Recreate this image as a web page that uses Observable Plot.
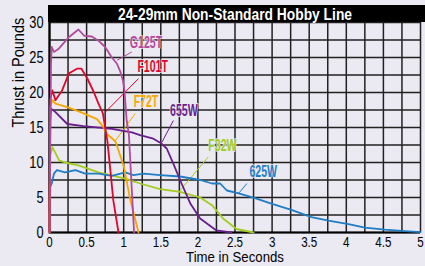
<!DOCTYPE html>
<html>
<head>
<meta charset="utf-8">
<script src="https://cdn.jsdelivr.net/npm/d3@7"></script>
<script src="https://cdn.jsdelivr.net/npm/@observablehq/plot@0.6"></script>
<style>
  html, body { margin: 0; padding: 0; background: #EBE9F1; }
  #chart { width: 425px; height: 266px; }
</style>
</head>
<body>
<div id="chart"></div>
<script>
const titleText = "24-29mm Non-Standard Hobby Line";
const xLabel = "Time in Seconds";
const yLabel = "Thrust in Pounds";
const xTicks = [0, 0.5, 1, 1.5, 2, 2.5, 3, 3.5, 4, 4.5, 5];
const yTicks = [0, 5, 10, 15, 20, 25, 30];
const xGrid = d3.range(0, 5.001, 0.25);
const yGrid = d3.range(0, 30.001, 2.5);

const seriesNames = ["F32W", "625W", "655W", "F72T", "F101T", "G125T"];
const seriesColors = ["#A2CD1E", "#1F7DC6", "#6A1E8E", "#F6A800", "#E1062C", "#B34A9E"];

const tF32W = [0, 0.01, 0.04, 0.13, 0.21, 0.39, 0.66, 1.02, 1.22, 1.49, 1.76, 2.03, 2.19, 2.34, 2.52, 2.75];
const vF32W = [0, 11, 12.2, 10.3, 10.0, 9.6, 8.6, 7.7, 7.0, 6.2, 5.8, 5.0, 3.9, 2.0, 0.5, 0];

const t625W = [0, 0.01, 0.03, 0.06, 0.10, 0.21, 0.35, 0.48, 0.66, 0.84, 1.02, 1.13, 1.27, 1.49, 1.76, 2.03, 2.19, 2.30, 2.39, 2.55, 2.77, 3.0, 3.27, 3.53, 3.76, 4.03, 4.25, 4.52, 4.79, 5.0];
const v625W = [0, 6.5, 7.0, 8.4, 8.9, 8.6, 8.9, 8.4, 8.4, 8.1, 8.6, 8.2, 8.4, 8.2, 8.0, 7.5, 7.0, 7.0, 6.0, 5.6, 4.9, 4.1, 3.2, 2.2, 1.7, 1.2, 0.7, 0.4, 0.2, 0.05];

const t655W = [0, 0.01, 0.02, 0.08, 0.24, 0.46, 0.84, 1.11, 1.22, 1.40, 1.51, 1.58, 1.67, 1.78, 1.90, 2.03, 2.25, 2.45];
const v655W = [0, 16, 17.7, 17.2, 15.5, 15.2, 14.8, 14.3, 13.9, 13.4, 12.7, 12.0, 9.8, 7.0, 4.1, 2.0, 0.3, 0];

const tF72T = [0, 0.01, 0.04, 0.08, 0.24, 0.42, 0.64, 0.73, 0.77, 0.89, 1.0, 1.09, 1.2];
const vF72T = [0, 18, 18.9, 18.4, 17.9, 17.2, 16.2, 15.0, 14.1, 13.0, 9.5, 4.6, 0];

const tF101T = [0, 0.01, 0.04, 0.08, 0.17, 0.26, 0.37, 0.43, 0.51, 0.60, 0.66, 0.72, 0.75, 0.78, 0.82, 0.86, 0.93];
const vF101T = [0, 19, 20.3, 18.9, 20.3, 22.7, 23.4, 23.4, 22.0, 20.0, 18.4, 17.0, 15.0, 13.1, 8.9, 4.6, 0];

const tG125T = [0, 0.02, 0.03, 0.06, 0.12, 0.26, 0.39, 0.47, 0.57, 0.66, 0.75, 0.84, 0.91, 0.95, 0.99, 1.01, 1.04, 1.07, 1.14];
const vG125T = [0, 24, 26.5, 25.8, 26.2, 27.9, 29.0, 28.1, 28.0, 27.4, 26.5, 25.0, 24.1, 23.1, 21.7, 20.3, 16, 14, 0];

// label anchors (data coordinates) and leader lines
const labelT = [2.33, 2.88, 1.81, 1.30, 1.39, 1.30];
const labelV = [12.4, 8.6, 17.4, 18.6, 23.6, 27.1];
const leadT1 = [2.14, 2.66, 1.67, 1.156, 1.20, 1.11];
const leadV1 = [10.8, 7.0, 16.0, 17.0, 22.0, 25.8];
const leadT2 = [1.76, 2.55, 1.515, 0.887, 0.753, 0.91];
const leadV2 = [6.0, 5.6, 12.9, 13.1, 17.2, 24.6];

const seriesT = [tF32W, t625W, t655W, tF72T, tF101T, tG125T];
const seriesV = [vF32W, v625W, v655W, vF72T, vF101T, vG125T];

const points = [];
seriesNames.forEach((name, i) => {
  seriesT[i].forEach((t, j) => points.push({motor: name, t, v: seriesV[i][j]}));
});
const labels = seriesNames.map((name, i) => ({
  motor: name, t: labelT[i], v: labelV[i],
  t1: leadT1[i], v1: leadV1[i], t2: leadT2[i], v2: leadV2[i]
}));

const font = "'Liberation Sans', Arial, sans-serif";
const bg = "#EBE9F1";

const chart = Plot.plot({
  width: 425,
  height: 266,
  marginLeft: 49,
  marginRight: 5,
  marginTop: 22,
  marginBottom: 34,
  style: {background: bg, fontFamily: font, fontSize: "16px", color: "#000"},
  x: {domain: [0, 5]},
  y: {domain: [0, 30]},
  color: {domain: seriesNames, range: seriesColors},
  marks: [
    Plot.ruleX(xGrid, {stroke: "#222", strokeWidth: 1.5}),
    Plot.ruleY(yGrid, {stroke: "#222", strokeWidth: 1.5}),
    Plot.ruleX([0], {stroke: "#000", strokeWidth: 2.2}),
    Plot.ruleY([0], {stroke: "#000", strokeWidth: 2.2}),
    Plot.axisX({ticks: xTicks, tickSize: 0, tickPadding: 4, fontSize: 14.5, label: null, tickFormat: d => String(d)}),
    Plot.axisY({ticks: yTicks, tickSize: 0, tickPadding: 6, fontSize: 16, label: null}),
    Plot.link(labels, {x1: "t1", y1: "v1", x2: "t2", y2: "v2", stroke: d => d.motor, strokeWidth: 1}),
    Plot.line(points, {x: "t", y: "v", z: "motor", stroke: "motor", strokeWidth: 1.8, strokeLinejoin: "round"}),
    Plot.text(labels, {x: "t", y: "v", text: "motor", fill: "motor", fontSize: 16, fontWeight: "bold",
      stroke: bg, strokeWidth: 2, strokeOpacity: 0.85, paintOrder: "stroke"}),
    Plot.text([xLabel], {frameAnchor: "bottom", dy: 29, fontSize: 15}),
    Plot.text([yLabel], {frameAnchor: "left", dx: -30.5, rotate: -90, fontSize: 16.5})
  ]
});

// title bar
const svg = d3.select(chart);
const g = svg.append("g");
g.append("rect").attr("x", 48).attr("y", 5).attr("width", 377).attr("height", 17).attr("fill", "#000");
g.append("text").attr("class", "title").attr("x", 235).attr("y", 14).attr("text-anchor", "middle").attr("dominant-baseline", "central")
  .attr("fill", "#fff").attr("font-family", font).attr("font-weight", "bold").attr("font-size", 16.5)
  .text(titleText);

document.getElementById("chart").appendChild(chart);

// condense glyphs horizontally to imitate a condensed typeface
svg.selectAll("text").each(function() {
  const txt = this.textContent;
  let f = 0.8;
  if (this.getAttribute("class") === "title") f = null;
  else if (seriesNames.includes(txt)) f = 0.66;
  else if (txt === xLabel || txt === yLabel) f = 0.88;
  const len = this.getComputedTextLength();
  this.setAttribute("textLength", f === null ? 234 : len * f);
  this.setAttribute("lengthAdjust", "spacingAndGlyphs");
});
</script>
</body>
</html>
